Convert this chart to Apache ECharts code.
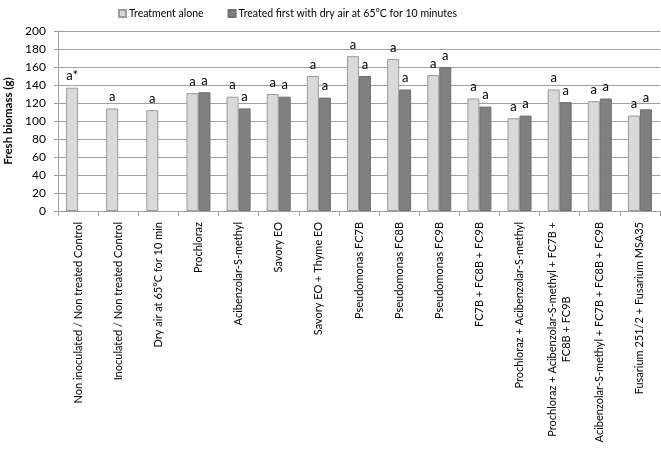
<!DOCTYPE html>
<html>
<head>
<meta charset="utf-8">
<script src="https://cdn.jsdelivr.net/npm/echarts@6/dist/echarts.min.js"></script>
<style>html,body{margin:0;padding:0;background:#fff;}#c{width:661px;height:457px;}</style>
</head>
<body>
<div id="c"></div>
<script>
const categories = [
  'Non inoculated / Non treated Control',
  'Inoculated / Non treated Control',
  'Dry air at 65°C for 10 min',
  'Prochloraz',
  'Acibenzolar-S-methyl',
  'Savory EO',
  'Savory EO + Thyme EO',
  'Pseudomonas FC7B',
  'Pseudomonas FC8B',
  'Pseudomonas FC9B',
  'FC7B + FC8B + FC9B',
  'Prochloraz + Acibenzolar-S-methyl',
  'Prochloraz + Acibenzolar-S-methyl + FC7B +\nFC8B + FC9B',
  'Acibenzolar-S-methyl + FC7B + FC8B + FC9B',
  'Fusarium 251/2 + Fusarium MSA35'
];
const seriesNames = ['Treatment alone', 'Treated first with dry air at 65°C for 10 minutes'];
const treatmentAlone = [137, 114, 112, 131, 127, 130, 150, 172, 169, 151, 125, 103, 135, 122, 106];
const treatedDryAir = [null, null, null, 132, 114, 127, 126, 150, 135, 160, 116, 106, 121, 125, 113];
const labelsAlone = ['a*', 'a', 'a', 'a', 'a', 'a', 'a', 'a', 'a', 'a', 'a', 'a', 'a', 'a', 'a'];
const labelsDryAir = ['', '', '', 'a', 'a', 'a', 'a', 'a', 'a', 'a', 'a', 'a', 'a', 'a', 'a'];
const yTicks = { min: 0, max: 200, interval: 20 };

const FONT = 'Lato';
const chart = echarts.init(document.getElementById('c'), null, { renderer: 'canvas' });

function barSeries(name, data, labels, fill, border) {
  return {
    name: name,
    type: 'bar',
    data: data,
    barWidth: 12,
    barGap: '0%',
    itemStyle: { color: fill, borderColor: border, borderWidth: 1 },
    label: {
      show: true,
      position: 'top',
      distance: 5,
      fontFamily: FONT,
      fontSize: 13,
      color: '#000',
      formatter: p => labels[p.dataIndex]
    },
    animation: false
  };
}

chart.setOption({
  animation: false,
  textStyle: { fontFamily: FONT },
  legend: {
    top: 3,
    left: 113,
    itemWidth: 7,
    itemHeight: 7,
    itemGap: 24,
    icon: 'rect',
    textStyle: { fontFamily: FONT, fontSize: 10.5, color: '#000', padding: [0, 0, 0, -2] },
    data: seriesNames
  },
  grid: { left: 58, right: 1, top: 31, bottom: 246, containLabel: false, outerBoundsMode: 'none' },
  xAxis: {
    type: 'category',
    data: categories,
    axisLine: { lineStyle: { color: '#a0a0a0', width: 1 } },
    axisTick: { show: true, alignWithLabel: false, length: 5, lineStyle: { color: '#a0a0a0' } },
    axisLabel: {
      interval: 0,
      rotate: 90,
      margin: 11,
      fontFamily: FONT,
      fontSize: 11,
      color: '#000',
      formatter: v => v.split('\n').map(s => '{c|' + s + '}').join('\n'),
      rich: { c: { align: 'center', fontFamily: FONT, fontSize: 11, color: '#000', lineHeight: 14 } }
    },
    splitLine: { show: false }
  },
  yAxis: {
    type: 'value',
    min: yTicks.min,
    max: yTicks.max,
    interval: yTicks.interval,
    name: 'Fresh biomass (g)',
    nameLocation: 'middle',
    nameRotate: 90,
    nameGap: 41,
    nameTextStyle: { fontFamily: FONT, fontSize: 11.5, fontWeight: 'bold', color: '#000' },
    axisLine: { show: true, lineStyle: { color: '#a0a0a0' } },
    axisTick: { show: true, inside: false, length: 4, lineStyle: { color: '#a0a0a0' } },
    axisLabel: { fontFamily: FONT, fontSize: 12, color: '#000', margin: 12 },
    splitLine: { show: true, lineStyle: { color: '#a0a0a0', width: 1 } }
  },
  series: [
    barSeries(seriesNames[0], treatmentAlone, labelsAlone, '#d9d9d9', '#9a9a9a'),
    barSeries(seriesNames[1], treatedDryAir, labelsDryAir, '#808080', '#707070')
  ]
});
</script>
</body>
</html>
